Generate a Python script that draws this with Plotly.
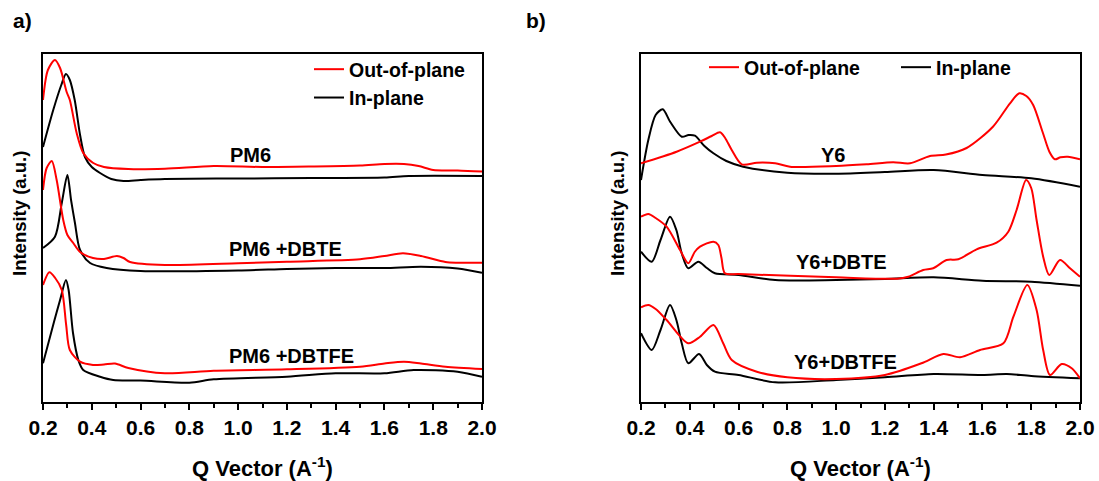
import plotly.graph_objects as go

# ---------------- data (Q in A^-1, intensity in a.u.) ----------------
# Panel a: PM6
pm6_out_q = [0.2, 0.22, 0.249, 0.27, 0.297, 0.31, 0.338, 0.365, 0.406, 0.45, 0.55, 0.7, 0.9, 1.1, 1.3, 1.5, 1.6, 1.68, 1.74, 1.8, 1.9, 2.0]
pm6_out_i = [300, 330, 340, 332, 308, 300, 267, 247, 237, 233, 231, 231.3, 234, 233, 233.5, 234.5, 236, 236, 234, 230, 229.5, 228.5]
pm6_in_q = [0.2, 0.242, 0.275, 0.294, 0.31, 0.33, 0.352, 0.372, 0.4, 0.434, 0.48, 0.53, 0.6, 0.7, 1.0, 1.3, 1.6, 1.7, 2.0]
pm6_in_i = [253, 290, 315, 326, 320, 300, 265, 243, 233, 227, 221, 219, 220, 221, 221.5, 222, 222.5, 224, 224]

pm6dbte_out_q = [0.2, 0.215, 0.236, 0.256, 0.283, 0.3, 0.324, 0.352, 0.405, 0.45, 0.503, 0.53, 0.557, 0.7, 1.0, 1.2, 1.5, 1.6, 1.676, 1.75, 1.85, 1.9, 2.0]
pm6dbte_out_i = [210, 232, 239, 220, 180, 165, 157, 148, 142, 141, 144, 142, 138, 135, 136.7, 138.3, 140.7, 144, 146.7, 144, 138, 137.3, 137.3]
pm6dbte_in_q = [0.2, 0.249, 0.277, 0.3, 0.315, 0.331, 0.352, 0.393, 0.461, 0.6, 1.0, 1.2, 1.4, 1.6, 1.75, 1.9, 2.0]
pm6dbte_in_i = [152, 163.3, 197, 225, 200, 177, 150, 137, 132, 129, 129.5, 131, 132, 132, 133.3, 131.5, 127.3]

pm6dbtfe_out_q = [0.2, 0.226, 0.25, 0.277, 0.295, 0.31, 0.352, 0.405, 0.45, 0.495, 0.55, 0.7, 0.9, 1.2, 1.5, 1.6, 1.68, 1.75, 1.85, 2.0]
pm6dbtfe_out_i = [115, 127.7, 122, 110, 75, 50, 38.3, 35, 35.5, 36.5, 32, 26.7, 29.3, 30.7, 33.3, 36.5, 38.3, 36.5, 33.3, 31]
pm6dbtfe_in_q = [0.2, 0.245, 0.27, 0.294, 0.305, 0.323, 0.345, 0.365, 0.434, 0.488, 0.6, 0.8, 0.9, 1.2, 1.4, 1.6, 1.72, 1.9, 2.0]
pm6dbtfe_in_i = [36.7, 78, 100, 120, 110, 67, 40, 30, 23.3, 20, 19.5, 17.3, 20.7, 23.3, 26.7, 26.7, 30, 28.3, 23.3]

# Panel b: Y6
y6_out_q = [0.2, 0.346, 0.442, 0.49, 0.524, 0.545, 0.572, 0.613, 0.675, 0.75, 0.811, 1.0, 1.125, 1.234, 1.303, 1.385, 1.45, 1.535, 1.643, 1.713, 1.751, 1.78, 1.808, 1.848, 1.875, 1.897, 1.92, 1.95, 2.0]
y6_out_i = [236.7, 248.3, 258.3, 264, 267.7, 262, 250, 235.7, 237.3, 236.7, 233.3, 234, 235.7, 237.7, 236.7, 244, 245.5, 252, 273.3, 296.7, 306.7, 304, 295, 267, 248, 240.7, 242.7, 243.3, 240.7]
y6_in_q = [0.2, 0.23, 0.26, 0.289, 0.32, 0.367, 0.395, 0.421, 0.46, 0.497, 0.55, 0.619, 0.8, 1.0, 1.2, 1.4, 1.6, 1.8, 2.0]
y6_in_i = [220, 260, 285, 290.7, 278, 263.3, 265, 264.3, 254, 246.7, 239, 233.3, 227.3, 226.3, 228, 230, 225, 221.7, 213.3]

y6dbte_out_q = [0.2, 0.23, 0.26, 0.305, 0.36, 0.394, 0.42, 0.442, 0.497, 0.517, 0.53, 0.544, 0.6, 1.0, 1.25, 1.296, 1.357, 1.398, 1.453, 1.501, 1.576, 1.658, 1.706, 1.74, 1.779, 1.8, 1.822, 1.849, 1.874, 1.918, 1.959, 2.0]
y6dbte_out_i = [183.3, 186, 182, 173.3, 150, 136.7, 148, 153.3, 158.3, 155, 142, 126.7, 126, 122.7, 121.3, 123.3, 130, 131.7, 140, 140.7, 150.7, 157.3, 168.3, 190, 220, 212, 180, 143.3, 125, 140, 131.7, 123.3]
y6dbte_in_q = [0.2, 0.244, 0.28, 0.319, 0.345, 0.367, 0.394, 0.435, 0.47, 0.503, 0.6, 0.75, 1.0, 1.2, 1.4, 1.6, 1.8, 2.0]
y6dbte_in_i = [148.3, 138.3, 160, 183.3, 170, 146.7, 131.7, 138.3, 132, 126.7, 125, 120, 120, 121, 122.7, 119.3, 118.3, 114.3]

y6dbtfe_out_q = [0.2, 0.23, 0.26, 0.305, 0.394, 0.442, 0.497, 0.537, 0.572, 0.675, 0.8, 1.0, 1.2, 1.35, 1.44, 1.508, 1.59, 1.686, 1.727, 1.784, 1.822, 1.849, 1.877, 1.925, 1.966, 2.0]
y6dbtfe_out_i = [92.7, 95, 91, 80, 56.7, 63.3, 75, 56.7, 40, 28.3, 22.7, 21, 25, 36.7, 46, 42.7, 50, 56.7, 83.3, 115, 90, 50, 25, 36, 31.7, 21.7]
y6dbtfe_in_q = [0.2, 0.244, 0.28, 0.319, 0.345, 0.367, 0.394, 0.438, 0.47, 0.503, 0.6, 0.75, 1.0, 1.2, 1.4, 1.6, 1.7, 1.8, 2.0]
y6dbtfe_in_i = [66.7, 50, 70, 95, 80, 56.7, 36.7, 46, 35, 28.3, 25, 17.7, 20, 22.7, 26, 25, 26, 24, 21.7]

labels_a = ["PM6", "PM6 +DBTE", "PM6 +DBTFE"]
labels_b = ["Y6", "Y6+DBTE", "Y6+DBTFE"]
series_names = ["Out-of-plane", "In-plane"]
x_ticks = [0.2, 0.4, 0.6, 0.8, 1.0, 1.2, 1.4, 1.6, 1.8, 2.0]

# ---------------- figure ----------------
W, H = 1099, 481
FONT = "Liberation Sans, Arial, sans-serif"
RED, BLACK = "#ff0000", "#000000"

fig = go.Figure()

panel_a = [(pm6_out_q, pm6_out_i, pm6_in_q, pm6_in_i),
           (pm6dbte_out_q, pm6dbte_out_i, pm6dbte_in_q, pm6dbte_in_i),
           (pm6dbtfe_out_q, pm6dbtfe_out_i, pm6dbtfe_in_q, pm6dbtfe_in_i)]
panel_b = [(y6_out_q, y6_out_i, y6_in_q, y6_in_i),
           (y6dbte_out_q, y6dbte_out_i, y6dbte_in_q, y6dbte_in_i),
           (y6dbtfe_out_q, y6dbtfe_out_i, y6dbtfe_in_q, y6dbtfe_in_i)]

for panel, (xa, ya, leg) in [(panel_a, ("x", "y", "legend")), (panel_b, ("x2", "y2", "legend2"))]:
    for k, (oq, oi, iq, ii) in enumerate(panel):
        fig.add_trace(go.Scatter(x=iq, y=ii, mode="lines", name=series_names[1],
                                 line=dict(color=BLACK, width=2, shape="spline", smoothing=0.8),
                                 xaxis=xa, yaxis=ya, legend=leg, showlegend=(k == 0),
                                 legendrank=2))
        fig.add_trace(go.Scatter(x=oq, y=oi, mode="lines", name=series_names[0],
                                 line=dict(color=RED, width=2, shape="spline", smoothing=0.8),
                                 xaxis=xa, yaxis=ya, legend=leg, showlegend=(k == 0),
                                 legendrank=1))

# plot-area geometry (pixels)
left_a, right_a = 43, 482
left_b, right_b = 641, 1080
top_px, bot_px = 53.5, 402

xcommon = dict(range=[0.2, 2.0], tickmode="array", tickvals=x_ticks,
               ticktext=[f"{v:.1f}" for v in x_ticks],
               ticks="outside", ticklen=6, tickwidth=2, tickcolor="black",
               minor=dict(tickmode="linear", tick0=0.1, dtick=0.2, ticks="outside",
                          ticklen=4, tickwidth=1.5, tickcolor="black"),
               showline=True, linewidth=2, linecolor="black", mirror=True,
               showgrid=False, zeroline=False, automargin=False,
               tickfont=dict(family=FONT, size=21, color="black", weight="bold"))
ycommon = dict(range=[-2, 346.5], showticklabels=False, ticks="",
               showline=True, linewidth=2, linecolor="black", mirror=True,
               showgrid=False, zeroline=False, automargin=False)

fig.update_layout(
    width=W, height=H,
    margin=dict(l=0, r=0, t=0, b=0, autoexpand=False),
    paper_bgcolor="white", plot_bgcolor="white",
    font=dict(family=FONT, color="black"),
    xaxis=dict(domain=[left_a / W, right_a / W], anchor="y", **xcommon),
    yaxis=dict(domain=[1 - bot_px / H, 1 - top_px / H], anchor="x", **ycommon),
    xaxis2=dict(domain=[left_b / W, right_b / W], anchor="y2", **xcommon),
    yaxis2=dict(domain=[1 - bot_px / H, 1 - top_px / H], anchor="x2", **ycommon),
    legend=dict(x=309 / W, y=1 - 50 / H, xanchor="left", yanchor="top",
                orientation="v", bgcolor="rgba(0,0,0,0)", tracegroupgap=0,
                font=dict(family=FONT, size=19.5, color="black", weight="bold")),
    legend2=dict(x=704 / W, y=1 - 48 / H, xanchor="left", yanchor="top",
                 orientation="h", bgcolor="rgba(0,0,0,0)", entrywidth=147,
                 font=dict(family=FONT, size=19.5, color="black", weight="bold")),
)

ann = []
bold = lambda s: dict(family=FONT, size=s, color="black", weight="bold")
common = dict(showarrow=False, xanchor="center", yanchor="middle")
# sample labels
for txt, q, i in zip(labels_a, [1.049, 1.196, 1.217], [245, 151, 44]):
    ann.append(dict(x=q, y=i, xref="x", yref="y", text=txt, font=bold(20), **common))
for txt, q, i in zip(labels_b, [0.987, 1.023, 1.04], [245, 138.3, 38.3]):
    ann.append(dict(x=q, y=i, xref="x2", yref="y2", text=txt, font=bold(20), **common))
# axis titles
for cx in [(left_a + right_a) / 2, (left_b + right_b) / 2]:
    ann.append(dict(x=cx / W, y=1 - 467 / H, xref="paper", yref="paper",
                    text="Q Vector (A<sup>-1</sup>)", font=bold(22), **common))
for cx in [19, 617]:
    ann.append(dict(x=cx / W, y=1 - 214 / H, xref="paper", yref="paper",
                    text="Intensity (a.u.)", textangle=-90, font=bold(18.5), **common))
# panel letters
ann.append(dict(x=22 / W, y=1 - 21 / H, xref="paper", yref="paper", text="a)",
                font=bold(21), **common))
ann.append(dict(x=536 / W, y=1 - 21 / H, xref="paper", yref="paper", text="b)",
                font=bold(21), **common))
fig.update_layout(annotations=ann)

fig.write_html("out.html", config={"displayModeBar": False},
               post_script="document.body.style.margin='0px';")
